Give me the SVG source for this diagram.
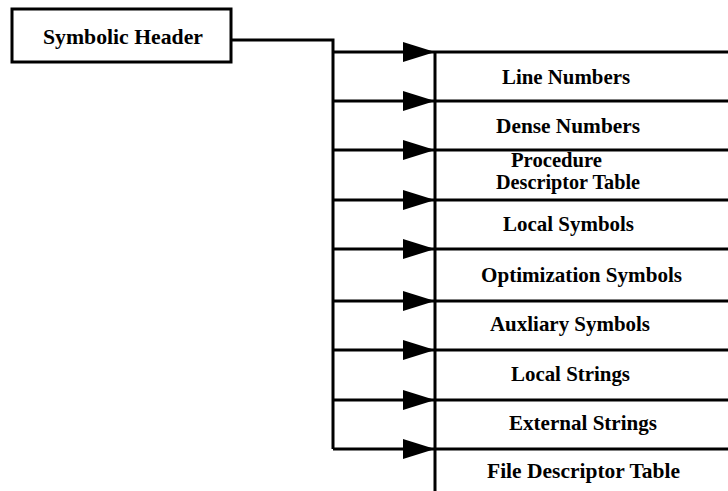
<svg xmlns="http://www.w3.org/2000/svg" width="728" height="491" viewBox="0 0 728 491">
  <style>
    .box { fill: #fff; stroke: #000; stroke-width: 3; }
    .rule { fill: none; stroke: #000; stroke-width: 3; }
    .wire { fill: none; stroke: #000; stroke-width: 3; }
    .lbl { font-family: "Liberation Serif", "Times New Roman", serif; font-weight: bold; font-size: 22px; fill: #000; }
    .lbl2 { font-size: 20px; }
  </style>
  <defs>
    <marker id="arrow" markerUnits="userSpaceOnUse" viewBox="0 0 32 20" refX="32" refY="10" markerWidth="32" markerHeight="20" orient="auto">
      <path d="M0,0 L32,10 L0,20 Z" fill="#000"/>
    </marker>
  </defs>

  <rect width="728" height="491" fill="#fff"/>

  <!-- header record -->
  <g id="symbolic-header">
    <rect class="box" x="12" y="9" width="219" height="53"/>
    <text class="lbl" x="43" y="44" textLength="160" lengthAdjust="spacingAndGlyphs">Symbolic Header</text>
  </g>

  <!-- header to each table: feed line, bus, and branches -->
  <g id="connectors">
    <path class="wire" d="M231,40 H333 V449"/>
    <path class="wire" d="M333,52 H435" marker-end="url(#arrow)"/>
    <path class="wire" d="M333,101 H435" marker-end="url(#arrow)"/>
    <path class="wire" d="M333,150 H435" marker-end="url(#arrow)"/>
    <path class="wire" d="M333,200 H435" marker-end="url(#arrow)"/>
    <path class="wire" d="M333,249 H435" marker-end="url(#arrow)"/>
    <path class="wire" d="M333,301 H435" marker-end="url(#arrow)"/>
    <path class="wire" d="M333,350 H435" marker-end="url(#arrow)"/>
    <path class="wire" d="M333,400 H435" marker-end="url(#arrow)"/>
    <path class="wire" d="M333,449 H435" marker-end="url(#arrow)"/>
  </g>

  <!-- stacked tables -->
  <g id="table-stack">
    <path class="rule" d="M435,52 V491"/>
  </g>

  <g id="line-numbers">
    <path class="rule" d="M435,52 H728"/>
    <text class="lbl" x="502" y="84" textLength="128" lengthAdjust="spacingAndGlyphs">Line Numbers</text>
  </g>

  <g id="dense-numbers">
    <path class="rule" d="M435,101 H728"/>
    <text class="lbl" x="496" y="133" textLength="144" lengthAdjust="spacingAndGlyphs">Dense Numbers</text>
  </g>

  <g id="procedure-descriptor-table">
    <path class="rule" d="M435,150 H728"/>
    <text class="lbl lbl2" x="511" y="167" textLength="91" lengthAdjust="spacingAndGlyphs">Procedure</text>
    <text class="lbl lbl2" x="496" y="189" textLength="144" lengthAdjust="spacingAndGlyphs">Descriptor Table</text>
  </g>

  <g id="local-symbols">
    <path class="rule" d="M435,200 H728"/>
    <text class="lbl" x="503" y="231" textLength="131" lengthAdjust="spacingAndGlyphs">Local Symbols</text>
  </g>

  <g id="optimization-symbols">
    <path class="rule" d="M435,249 H728"/>
    <text class="lbl" x="481" y="282" textLength="201" lengthAdjust="spacingAndGlyphs">Optimization Symbols</text>
  </g>

  <g id="auxliary-symbols">
    <path class="rule" d="M435,301 H728"/>
    <text class="lbl" x="490" y="331" textLength="160" lengthAdjust="spacingAndGlyphs">Auxliary Symbols</text>
  </g>

  <g id="local-strings">
    <path class="rule" d="M435,350 H728"/>
    <text class="lbl" x="511" y="381" textLength="119" lengthAdjust="spacingAndGlyphs">Local Strings</text>
  </g>

  <g id="external-strings">
    <path class="rule" d="M435,400 H728"/>
    <text class="lbl" x="509" y="430" textLength="148" lengthAdjust="spacingAndGlyphs">External Strings</text>
  </g>

  <g id="file-descriptor-table">
    <path class="rule" d="M435,449 H728"/>
    <text class="lbl" x="487" y="478" textLength="193" lengthAdjust="spacingAndGlyphs">File Descriptor Table</text>
  </g>
</svg>
